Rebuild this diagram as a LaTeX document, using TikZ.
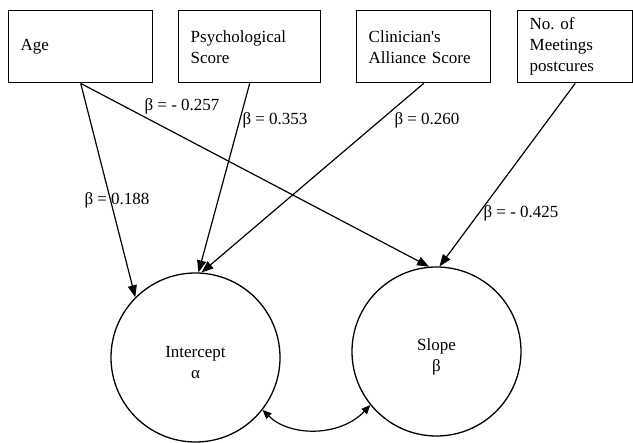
\documentclass[tikz,border=0pt]{standalone}
\usepackage{fontspec}
\setmainfont{Liberation Serif}
\usetikzlibrary{arrows.meta}
\frenchspacing
\begin{document}
\begin{tikzpicture}[x=1pt,y=-1pt,
  every node/.style={font=\fontsize{17}{21}\selectfont},
  varbox/.style={draw, line width=1.4pt, minimum height=72pt, inner xsep=12pt, inner ysep=0pt, align=left, anchor=north west},
  latent/.style={draw, circle, line width=1.3pt, minimum size=169pt, inner sep=0pt, align=center},
  path/.style={line width=1.2pt, -{Triangle[length=12pt,width=9pt]}},
  cov/.style={line width=1.2pt, {Triangle[length=9pt,width=7.5pt]}-{Triangle[length=9pt,width=7.5pt]}},
  coef/.style={inner sep=0pt}]
\useasboundingbox (0,0) rectangle (633,443);
\node[varbox, text width=120pt] (age) at (8,10) {Age};
\node[varbox, text width=118pt] (psy) at (178,10) {Psychological\\Score};
\node[varbox, text width=110pt] (cli) at (356,10) {Clinician\textquotesingle s\\Alliance Score};
\node[varbox, text width=91pt] (mee) at (517,10) {No. of\\Meetings\\postcures};
\node[latent] (I) at (195.5,357.5) {\rule{0pt}{22pt}Intercept\\α};
\node[latent] (S) at (436.5,351.5) {\rule{0pt}{22pt}Slope\\β};
\draw[path] (age.south) -- (I.135);
\draw[path] (age.south) -- (S.95);
\draw[path] (psy.south) -- (I.88);
\draw[path] (cli.south) -- (I.86);
\draw[path] (mee.south) -- (S.88);
\draw[cov] (I.-38) .. controls (290,437) and (340,437) .. (S.-141);
\node[coef] (c1) at (117,200) {β = 0.188};
\node[coef] (c2) at (182,106) {β = - 0.257};
\node[coef] (c3) at (275,120) {β = 0.353};
\node[coef] (c4) at (427,120) {β = 0.260};
\node[coef] (c5) at (521,213) {β = - 0.425};
\end{tikzpicture}
\end{document}
